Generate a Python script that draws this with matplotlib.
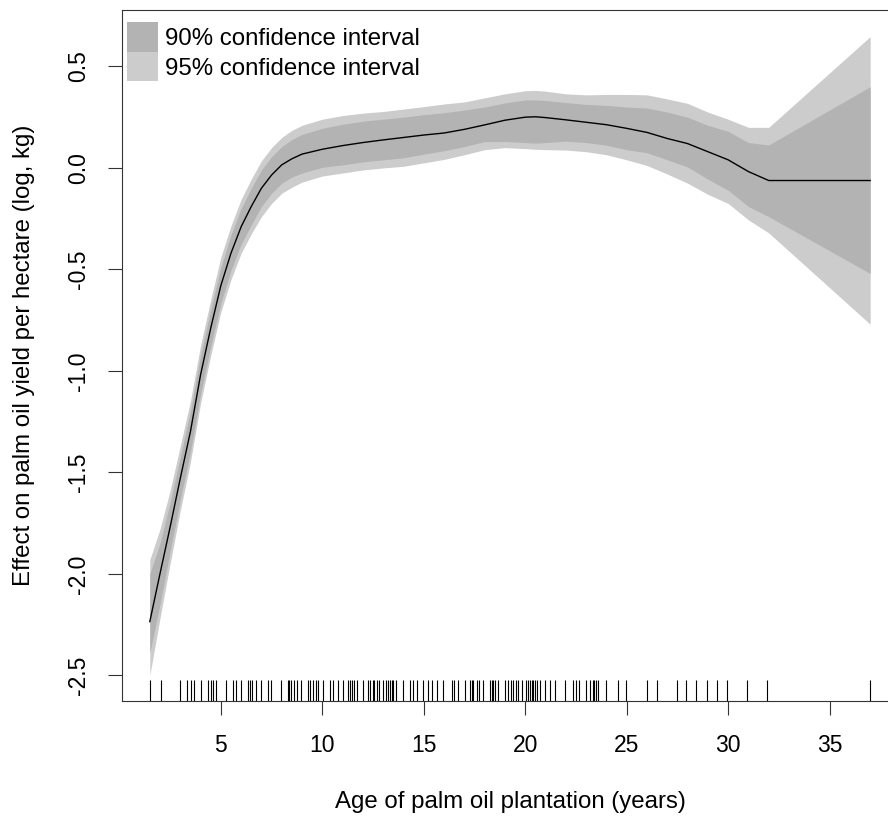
"""GAM smooth: effect of plantation age on palm oil yield, with 90/95% bands and rug"""
import matplotlib
matplotlib.use('Agg')
import matplotlib.pyplot as plt
import matplotlib.transforms as mtransforms
from matplotlib.patches import Patch

plt.rcParams['font.family'] = ['Liberation Sans', 'DejaVu Sans']

# fitted smooth and confidence bounds
age = [1.5, 2.0, 2.5, 3.0, 3.5, 4.0, 4.5, 5.0, 5.5, 6.0, 6.5, 7.0, 7.5, 8.0, 8.5,
       9.0, 10.0, 11.0, 12.0, 13.0, 14.0, 15.0, 16.0, 17.0, 18.0, 19.0, 20.0,
       20.5, 21.0, 22.0, 23.0, 24.0, 25.0, 26.0, 27.0, 28.0, 29.0, 30.0, 31.0,
       32.0, 37.0]
fit = [-2.235, -2.00, -1.77, -1.53, -1.30, -1.02, -0.79, -0.58, -0.42, -0.29,
       -0.19, -0.10, -0.035, 0.015, 0.045, 0.068, 0.092, 0.11, 0.125, 0.138,
       0.15, 0.162, 0.172, 0.19, 0.212, 0.235, 0.25, 0.252, 0.248, 0.237,
       0.225, 0.213, 0.195, 0.175, 0.145, 0.12, 0.08, 0.04, -0.018, -0.062,
       -0.062]
lo95 = [-2.50, -2.22, -1.95, -1.69, -1.45, -1.16, -0.925, -0.71, -0.55, -0.42,
        -0.325, -0.24, -0.175, -0.125, -0.095, -0.07, -0.04, -0.025, -0.01, 0.0,
        0.008, 0.025, 0.042, 0.065, 0.09, 0.10, 0.095, 0.092, 0.09, 0.088,
        0.08, 0.065, 0.04, 0.012, -0.03, -0.075, -0.13, -0.175, -0.256, -0.32,
        -0.77]
lo90 = [-2.39, -2.15, -1.89, -1.635, -1.40, -1.115, -0.88, -0.667, -0.505,
        -0.375, -0.28, -0.19, -0.125, -0.075, -0.045, -0.025, 0.003, 0.015, 0.03,
        0.04, 0.05, 0.068, 0.085, 0.105, 0.13, 0.13, 0.125, 0.122, 0.125, 0.132,
        0.125, 0.112, 0.09, 0.075, 0.04, 0.005, -0.055, -0.11, -0.19, -0.24,
        -0.52]
hi90 = [-2.00, -1.85, -1.65, -1.425, -1.20, -0.925, -0.70, -0.49, -0.33,
        -0.20, -0.10, -0.01, 0.055, 0.105, 0.14, 0.165, 0.195, 0.215, 0.23,
        0.24, 0.25, 0.262, 0.272, 0.285, 0.30, 0.32, 0.335, 0.335, 0.332, 0.322,
        0.313, 0.308, 0.30, 0.295, 0.275, 0.25, 0.21, 0.18, 0.125, 0.113, 0.40]
hi95 = [-1.93, -1.78, -1.59, -1.37, -1.15, -0.875, -0.65, -0.44, -0.285, -0.155,
        -0.055, 0.035, 0.10, 0.15, 0.185, 0.21, 0.24, 0.258, 0.27, 0.278,
        0.29, 0.302, 0.315, 0.325, 0.345, 0.365, 0.38, 0.382, 0.378, 0.365,
        0.36, 0.362, 0.362, 0.36, 0.34, 0.318, 0.275, 0.24, 0.20, 0.20, 0.647]

# observed plantation ages (rug)
rug_age = [1.52, 2.04, 3.0, 3.35, 3.52, 3.68, 4.03, 4.36, 4.51, 4.61, 4.77, 5.26,
           5.59, 5.75, 6.0, 6.33, 6.44, 6.56, 6.72, 6.99, 7.32, 7.48, 7.99, 8.30,
           8.38, 8.46, 8.63, 8.74, 8.96, 9.29, 9.40, 9.53, 9.69, 9.81, 10.05,
           10.38, 10.55, 10.79, 11.04, 11.26, 11.37, 11.48, 11.58, 11.70, 12.02,
           12.24, 12.36, 12.49, 12.57, 12.68, 12.81, 13.01, 13.13, 13.26, 13.34,
           13.42, 13.50, 13.64, 14.00, 14.30, 14.46, 14.66, 14.98, 15.23, 15.39,
           15.64, 15.97, 16.38, 16.51, 16.67, 17.03, 17.28, 17.36, 17.44, 17.61,
           17.74, 17.94, 18.27, 18.35, 18.43, 18.51, 18.67, 19.00, 19.17, 19.30,
           19.41, 19.53, 19.66, 19.86, 20.04, 20.15, 20.24, 20.32, 20.40, 20.48,
           20.57, 20.73, 20.98, 21.22, 21.47, 21.96, 22.34, 22.50, 22.65, 22.99,
           23.19, 23.32, 23.40, 23.49, 23.60, 23.98, 24.59, 24.97, 25.99, 26.48,
           27.46, 27.93, 28.44, 28.96, 29.45, 29.95, 30.93, 31.91, 37.0]

x_ticks = [5, 10, 15, 20, 25, 30, 35]
y_ticks = [-2.5, -2.0, -1.5, -1.0, -0.5, 0.0, 0.5]

C95 = '#cccccc'
C90 = '#b3b3b3'
FS_TICK = 16.5
FS_LAB = 17.3

fig = plt.figure(figsize=(8.88, 8.21), dpi=100)
# right edge of the box sits just past the canvas, like the cropped original
ax = fig.add_axes([122 / 888, 120 / 821, 777 / 888, 691 / 821])

ax.fill_between(age, lo95, hi95, color=C95, lw=0)
ax.fill_between(age, lo90, hi90, color=C90, lw=0)
ax.plot(age, fit, color='black', lw=1.0)

# rug along the bottom
trans = mtransforms.blended_transform_factory(ax.transData, ax.transAxes)
ax.vlines(rug_age, 0, 0.03, transform=trans, color='black', lw=0.8)

ax.set_xlim(0.13, 38.42)
ax.set_ylim(-2.626, 0.778)
ax.set_xticks(x_ticks)
ax.set_xticklabels([str(t) for t in x_ticks])
ax.set_yticks(y_ticks)
ax.set_yticklabels([f'{t:.1f}' for t in y_ticks], rotation=90, va='center')

for s in ax.spines.values():
    s.set_linewidth(0.8)
    s.set_color('#333333')
ax.tick_params(axis='both', direction='out', length=10, width=0.8,
               color='#333333', labelsize=FS_TICK)
ax.tick_params(axis='x', pad=13.5)
ax.tick_params(axis='y', pad=13)

ax.set_xlabel('Age of palm oil plantation (years)', fontsize=FS_LAB, labelpad=25)
ax.set_ylabel('Effect on palm oil yield per hectare (log, kg)', fontsize=FS_LAB,
              labelpad=23)

handles = [Patch(facecolor=C90, edgecolor='none'),
           Patch(facecolor=C95, edgecolor='none')]
ax.legend(handles, ['90% confidence interval', '95% confidence interval'],
          loc='upper left', bbox_to_anchor=(0.006, 0.982), frameon=False,
          fontsize=FS_LAB, borderpad=0, borderaxespad=0, labelspacing=0,
          handlelength=1.315, handleheight=1.51, handletextpad=0.28)

plt.savefig('out.png', dpi=100)
plt.close()
